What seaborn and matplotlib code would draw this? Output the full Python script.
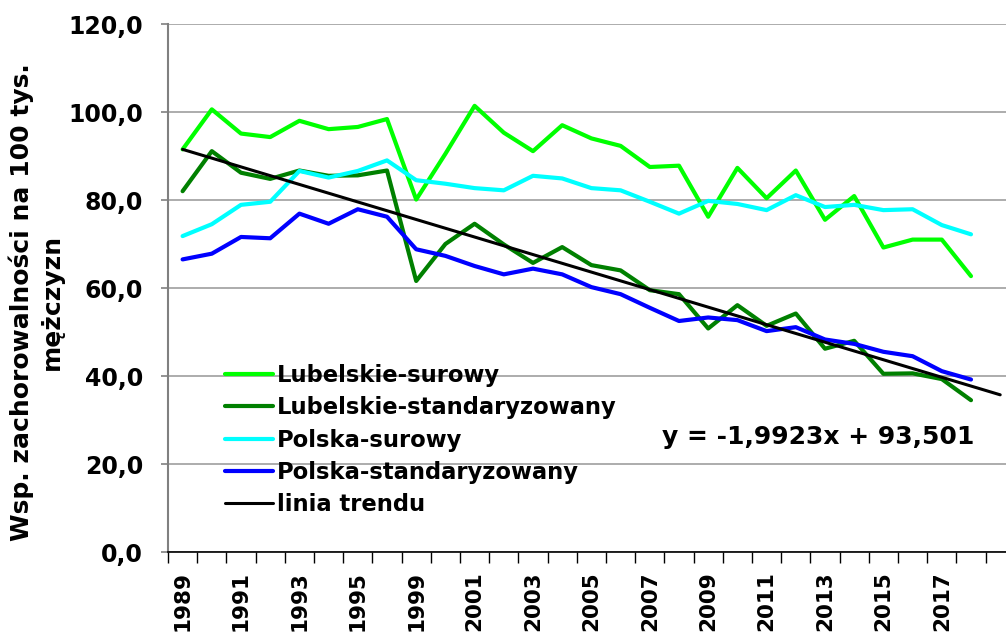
import numpy as np
import pandas as pd
import matplotlib
matplotlib.use("Agg")
import matplotlib.pyplot as plt
from matplotlib.lines import Line2D
import seaborn as sns

# =============================
# data
# =============================

years = [1989, 1990, 1991, 1992, 1993, 1994, 1995, 1998,
         1999, 2000, 2001, 2002, 2003, 2004, 2005, 2006, 2007, 2008,
         2009, 2010, 2011, 2012, 2013, 2014, 2015, 2016, 2017, 2018]

lubelskie_surowy = [91.5, 100.6, 95.1, 94.3, 98.0, 96.1, 96.6, 98.4,
                    80.1, 90.5, 101.4, 95.3, 91.1, 97.0, 94.0, 92.3, 87.5, 87.8,
                    76.2, 87.3, 80.4, 86.7, 75.5, 80.9, 69.2, 71.0, 71.0, 62.7]

lubelskie_std = [82.0, 91.1, 86.2, 84.8, 86.7, 85.5, 85.6, 86.7,
                 61.6, 70.0, 74.6, 69.9, 65.7, 69.3, 65.2, 64.0, 59.5, 58.6,
                 50.8, 56.1, 51.4, 54.2, 46.2, 48.0, 40.5, 40.6, 39.3, 34.5]

polska_surowy = [71.8, 74.5, 78.9, 79.6, 86.6, 85.1, 86.6, 89.0,
                 84.5, 83.7, 82.7, 82.2, 85.5, 84.9, 82.7, 82.2, 79.6, 76.9,
                 79.8, 79.1, 77.7, 81.1, 78.4, 78.9, 77.7, 77.9, 74.3, 72.2]

polska_std = [66.5, 67.8, 71.6, 71.3, 76.9, 74.6, 77.9, 76.2,
              68.8, 67.3, 65.0, 63.1, 64.4, 63.1, 60.2, 58.6, 55.5, 52.5,
              53.3, 52.7, 50.2, 51.1, 48.3, 47.3, 45.5, 44.5, 41.1, 39.2]

series_names = ["Lubelskie-surowy", "Lubelskie-standaryzowany",
                "Polska-surowy", "Polska-standaryzowany"]
series_colors = ["#00FF00", "#008000", "#00FFFF", "#0000FF"]

# linear trend shown on the chart (forecast one period forward)
trend_slope = -1.9923
trend_intercept = 93.501
trend_label = "y = -1,9923x + 93,501"

y_label = "Wsp. zachorowalności na 100 tys.\nmężczyzn"

# =============================

rows = []
for name, values in zip(series_names, [lubelskie_surowy, lubelskie_std, polska_surowy, polska_std]):
    for i, v in enumerate(values):
        rows.append([i + 1, v, name])
df = pd.DataFrame(rows, columns=["x", "value", "series"])

n = len(years)
trend_x = np.arange(1, n + 2)
trend_df = pd.DataFrame({"x": trend_x, "value": trend_slope * trend_x + trend_intercept})

sns.set_style("white")
plt.rcParams["font.family"] = ["DejaVu Sans"]
plt.rcParams["font.weight"] = "bold"
for k in ["text.color", "axes.labelcolor", "xtick.labelcolor", "ytick.labelcolor"]:
    plt.rcParams[k] = "black"

W, H = 1006, 637
fig = plt.figure(figsize=(W / 100, H / 100), dpi=100)
ax_left, ax_bottom, ax_top = 168, 552, 24
cat_w = 29.2
ax_w = (n + 1) * cat_w
ax = fig.add_axes([ax_left / W, 1 - ax_bottom / H, ax_w / W, (ax_bottom - ax_top) / H])

sns.lineplot(data=df, x="x", y="value", hue="series", hue_order=series_names,
             palette=dict(zip(series_names, series_colors)), linewidth=3,
             legend=False, ax=ax, solid_joinstyle="round", solid_capstyle="round")
sns.lineplot(data=trend_df, x="x", y="value", color="black", linewidth=2.2,
             ax=ax, clip_on=False)

ax.set_xlim(0.5, n + 1.5)
ax.set_ylim(0, 120)

# y axis
ax.set_yticks(np.arange(0, 121, 20))
ax.set_yticklabels([f"{v:.1f}".replace(".", ",") for v in np.arange(0, 121, 20)],
                   fontsize=17, fontweight="bold")
ax.yaxis.grid(True, color="#a6a6a6", linewidth=1.3)
ax.set_axisbelow(True)
ax.tick_params(axis="y", which="major", direction="out", length=5, width=1.2,
               color="#808080", pad=13, left=True)
ax.set_ylabel(y_label, fontsize=18, fontweight="bold", linespacing=1.3)
ax.yaxis.set_label_coords(-(ax_left - 64) / ax_w, 0.473)

# x axis: ticks on category borders, labels on every 2nd category
ax.set_xticks(np.arange(0.5, n + 2, 1))
ax.set_xticklabels([])
ax.tick_params(axis="x", which="major", direction="out", length=8, width=1, color="black", bottom=True)
ax.set_xticks(np.arange(1, n + 1, 2), minor=True)
ax.set_xticklabels([str(y) for y in years[::2]], minor=True, rotation=90,
                   fontsize=15.5, fontweight="bold")
ax.tick_params(axis="x", which="minor", length=0, pad=14)
ax.set_xlabel("")

for s in ["top", "right"]:
    ax.spines[s].set_visible(False)
ax.spines["left"].set_color("#808080")
ax.spines["left"].set_linewidth(1.5)
ax.spines["bottom"].set_color("black")
ax.spines["bottom"].set_linewidth(1.2)

handles = [Line2D([], [], color=c, linewidth=3, solid_capstyle="round") for c in series_colors]
handles.append(Line2D([], [], color="black", linewidth=2.2))
fig.legend(handles, series_names + ["linia trendu"], loc="upper left",
           bbox_to_anchor=(225 / W, 1 - 364 / H), frameon=False,
           prop={"size": 16.3, "weight": "bold"}, handlelength=2.1, handletextpad=0.2,
           labelspacing=0.41, borderpad=0, borderaxespad=0)

fig.text(818 / W, 1 - 437 / H, trend_label, ha="center", va="center",
         fontsize=18, fontweight="bold")

fig.savefig("out.png", dpi=100)
